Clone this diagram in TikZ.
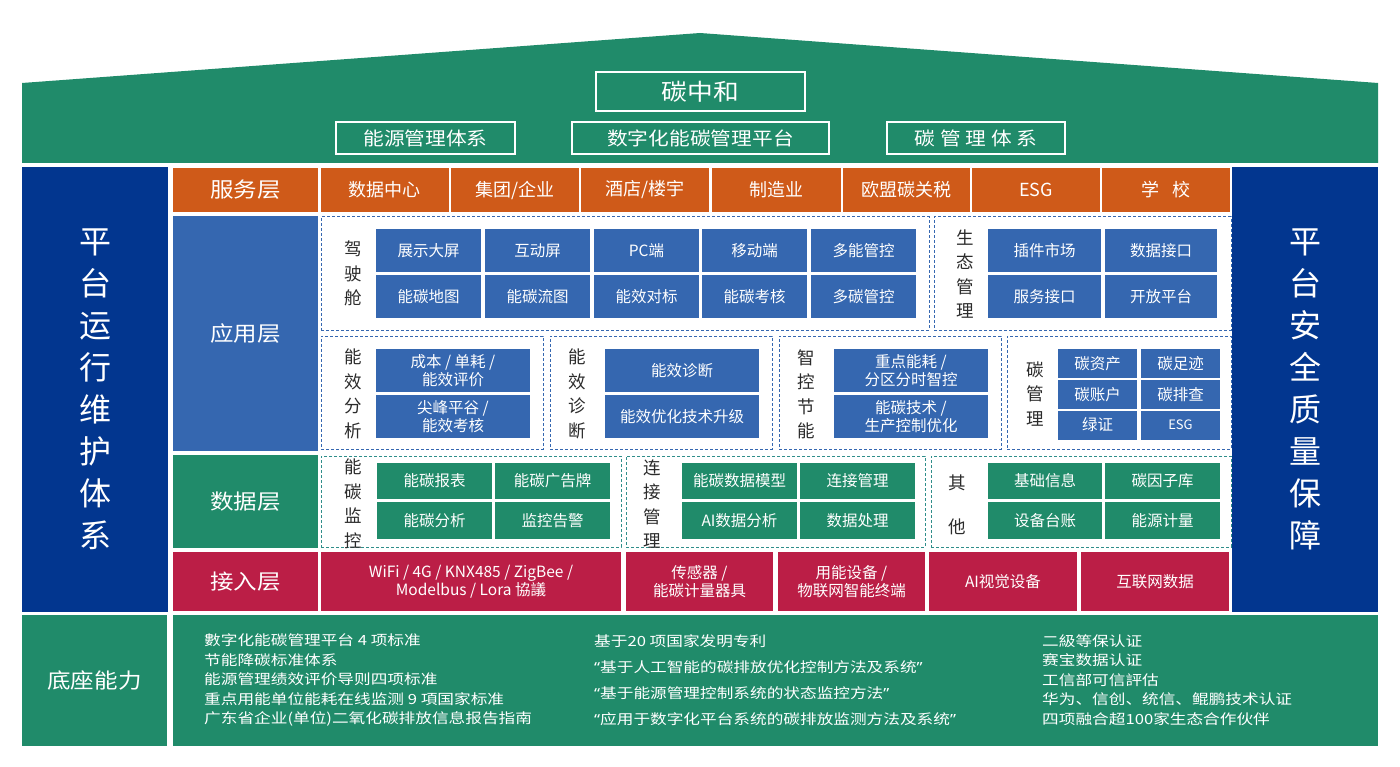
\documentclass[tikz,border=0pt]{standalone}
\usepackage{fontspec}
\setmainfont{Noto Sans CJK SC}
\newfontfamily\wideA[FakeStretch=1.12]{Noto Sans CJK SC}
\newfontfamily\wideB[FakeStretch=1.19]{Noto Sans CJK SC}
\newfontfamily\quotefont[FakeStretch=1.19]{Noto Sans}
\newcommand\oq{{\quotefont “}}
\newcommand\cq{{\quotefont ”}}
\usepackage{tikz}
\usetikzlibrary{positioning}

\definecolor{roofgreen}{HTML}{208B6A}
\definecolor{darkblue}{HTML}{02368F}
\definecolor{svcorange}{HTML}{CF5A19}
\definecolor{appblue}{HTML}{3567B0}
\definecolor{accred}{HTML}{BB1E46}
\definecolor{dashteal}{HTML}{2F8E8A}
\definecolor{labelgray}{HTML}{2B2B2B}

\tikzset{
  dims/.style 2 args={minimum width=#1pt, minimum height=#2pt},
  cell/.style={rectangle, inner sep=0pt, outer sep=0pt, text=white, align=center, font=\fontsize{15.5}{18.5}\selectfont},
  layerbox/.style={cell, font=\wideA\fontsize{21}{21}\selectfont},
}

\begin{document}
\begin{tikzpicture}[x=1pt, y=-1pt]
  \tikzset{
    roofbox/.style={cell, draw=white, line width=1.2pt, font=\wideA\fontsize{18.5}{18.5}\selectfont},
    sidebar/.style={cell, fill=darkblue, font=\fontsize{32}{42}\selectfont},
    svccell/.style={cell, fill=svcorange, font=\fontsize{18}{18}\selectfont},
    appcell/.style={cell, fill=appblue},
    datacell/.style={cell, fill=roofgreen},
    acccell/.style={cell, fill=accred},
    appgroup/.style={rectangle, draw=appblue, fill=white, line width=1pt, dash pattern=on 3pt off 2pt, inner sep=0pt},
    datagroup/.style={appgroup, draw=dashteal},
    grouplabel/.style={text=labelgray, align=center, inner sep=0pt, font=\fontsize{17.5}{24.5}\selectfont},
    basetext/.style={anchor=west, text=white, align=left, inner sep=0pt, font=\wideB\fontsize{14}{19.5}\selectfont},
  }
  \useasboundingbox (0,0) rectangle (1400,767);

  % Roof
  \fill[roofgreen] (22,83) -- (700,33) -- (1378,83) -- (1378,163) -- (22,163) -- cycle;
  \node[roofbox, dims={209}{39}, font=\wideA\fontsize{23}{23}\selectfont] (tzh) at (700.5,91.5) {碳中和};
  \node[roofbox, dims={179}{32}] (nytx) at (425.5,138) {能源管理体系};
  \node[roofbox, dims={257}{32}] (pt) at (700.5,138) {数字化能碳管理平台};
  \node[roofbox, dims={178}{32}] (ttx) at (976,138) {碳 管 理 体 系};

  % Side columns
  \node[sidebar, dims={146}{445}] (yw) at (95,389.5) {平\\台\\运\\行\\维\\护\\体\\系};
  \node[sidebar, dims={146}{445}] (aq) at (1305,389.5) {平\\台\\安\\全\\质\\量\\保\\障};

  % Service layer
  \node[svccell, layerbox, dims={145}{44}] (fwc) at (245.5,190) {服务层};
  \node[svccell, dims={128}{44}] (s1) at (384.5,190) {数据中心};
  \node[svccell, dims={128}{44}] (s2) at (515,190) {集团/企业};
  \node[svccell, dims={128}{44}] (s3) at (645,190) {酒店/楼宇};
  \node[svccell, dims={129}{44}] (s4) at (776,190) {制造业};
  \node[svccell, dims={127}{44}] (s5) at (906.5,190) {欧盟碳关税};
  \node[svccell, dims={128}{44}] (s6) at (1036,190) {ESG};
  \node[svccell, dims={128}{44}] (s7) at (1166,190) {学\hspace{0.7em}校};

  % Application layer
  \node[layerbox, fill=appblue, dims={145}{235}] (yyc) at (245.5,333.5) {应用层};
  \node[appgroup, dims={608}{113}] (jscg) at (625,273.5) {};
  \node[appgroup, dims={297}{113}] (stg) at (1082.5,273.5) {};
  \node[appgroup, dims={222}{113}] (fxg) at (432,392.5) {};
  \node[appgroup, dims={222}{113}] (zdg) at (661,392.5) {};
  \node[appgroup, dims={222}{113}] (zkg) at (890,392.5) {};
  \node[appgroup, dims={224}{113}] (tgg) at (1119,392.5) {};

  \node[grouplabel] (jscl) at (353,273.5) {驾\\驶\\舱};
  \node[appcell, dims={105}{43}] (a1) at (428.5,250.5) {展示大屏};
  \node[appcell, dims={105}{43}] (a2) at (537.5,250.5) {互动屏};
  \node[appcell, dims={105}{43}] (a3) at (646.5,250.5) {PC端};
  \node[appcell, dims={105}{43}] (a4) at (754.5,250.5) {移动端};
  \node[appcell, dims={105}{43}] (a5) at (863.5,250.5) {多能管控};
  \node[appcell, dims={105}{43}] (a6) at (428.5,296.5) {能碳地图};
  \node[appcell, dims={105}{43}] (a7) at (537.5,296.5) {能碳流图};
  \node[appcell, dims={105}{43}] (a8) at (646.5,296.5) {能效对标};
  \node[appcell, dims={105}{43}] (a9) at (754.5,296.5) {能碳考核};
  \node[appcell, dims={105}{43}] (a10) at (863.5,296.5) {多碳管控};

  \node[grouplabel] (stl) at (965,274) {生\\态\\管\\理};
  \node[appcell, dims={113}{43}] (e1) at (1044.5,250.5) {插件市场};
  \node[appcell, dims={112}{43}] (e2) at (1161,250.5) {数据接口};
  \node[appcell, dims={113}{43}] (e3) at (1044.5,296.5) {服务接口};
  \node[appcell, dims={112}{43}] (e4) at (1161,296.5) {开放平台};

  \node[grouplabel] (fxl) at (353,394) {能\\效\\分\\析};
  \node[appcell, dims={154}{43}] (f1) at (453,370.5) {成本 / 单耗 /\\能效评价};
  \node[appcell, dims={154}{43}] (f2) at (453,416.5) {尖峰平谷 /\\能效考核};

  \node[grouplabel] (zdl) at (577,394) {能\\效\\诊\\断};
  \node[appcell, dims={154}{43}] (d1) at (682,370.5) {能效诊断};
  \node[appcell, dims={154}{43}] (d2) at (682,416.5) {能效优化技术升级};

  \node[grouplabel] (zkl) at (806,394.5) {智\\控\\节\\能};
  \node[appcell, dims={154}{43}] (k1) at (911,370.5) {重点能耗 /\\分区分时智控};
  \node[appcell, dims={154}{43}] (k2) at (911,416.5) {能碳技术 /\\生产控制优化};

  \node[grouplabel] (tgl) at (1035,394) {碳\\管\\理};
  \node[appcell, dims={79}{29}] (t1) at (1097.5,363.5) {碳资产};
  \node[appcell, dims={79}{29}] (t2) at (1180.5,363.5) {碳足迹};
  \node[appcell, dims={79}{29}] (t3) at (1097.5,394.5) {碳账户};
  \node[appcell, dims={79}{29}] (t4) at (1180.5,394.5) {碳排查};
  \node[appcell, dims={79}{29}] (t5) at (1097.5,425) {绿证};
  \node[appcell, dims={79}{29}, font=\fontsize{13}{13}\selectfont] (t6) at (1180.5,425) {ESG};

  % Data layer
  \node[layerbox, fill=roofgreen, dims={145}{93}] (sjc) at (245.5,501.5) {数据层};
  \node[datagroup, dims={300}{91}] (jkg) at (471,501.5) {};
  \node[datagroup, dims={299}{91}] (ljg) at (775.5,501.5) {};
  \node[datagroup, dims={300}{91}] (qtg) at (1081,501.5) {};

  \node[grouplabel] (jkl) at (353,504) {能\\碳\\监\\控};
  \node[datacell, dims={115}{36.5}] (m1) at (434.5,481) {能碳报表};
  \node[datacell, dims={115}{36.5}] (m2) at (552.5,481) {能碳广告牌};
  \node[datacell, dims={115}{36.5}] (m3) at (434.5,520.5) {能碳分析};
  \node[datacell, dims={115}{36.5}] (m4) at (552.5,520.5) {监控告警};

  \node[grouplabel] (ljl) at (652,504) {连\\接\\管\\理};
  \node[datacell, dims={115}{36.5}] (c1) at (739.5,481) {能碳数据模型};
  \node[datacell, dims={115}{36.5}] (c2) at (857.5,481) {连接管理};
  \node[datacell, dims={115}{36.5}] (c3) at (739.5,520.5) {AI数据分析};
  \node[datacell, dims={115}{36.5}] (c4) at (857.5,520.5) {数据处理};

  \node[grouplabel] (qtl) at (957,505) {其\\[19.5pt]他};
  \node[datacell, dims={114}{36.5}] (o1) at (1045,481) {基础信息};
  \node[datacell, dims={115}{36.5}] (o2) at (1162.5,481) {碳因子库};
  \node[datacell, dims={114}{36.5}] (o3) at (1045,520.5) {设备台账};
  \node[datacell, dims={115}{36.5}] (o4) at (1162.5,520.5) {能源计量};

  % Access layer
  \node[layerbox, fill=accred, dims={145}{59}] (jrc) at (245.5,581.5) {接入层};
  \node[acccell, dims={300}{59}] (r1) at (471,581.5) {WiFi / 4G / KNX485 / ZigBee /\\Modelbus / Lora 協議};
  \node[acccell, dims={147}{59}] (r2) at (699.5,581.5) {传感器 /\\能碳计量器具};
  \node[acccell, dims={147}{59}] (r3) at (851.5,581.5) {用能设备 /\\物联网智能终端};
  \node[acccell, dims={148}{59}] (r4) at (1003,581.5) {AI视觉设备};
  \node[acccell, dims={148}{59}] (r5) at (1155,581.5) {互联网数据};

  % Base
  \node[layerbox, fill=roofgreen, dims={145}{131}] (dznl) at (94.5,680.5) {底座能力};
  \node[cell, fill=roofgreen, dims={1205}{131}] (dz) at (775.5,680.5) {};
  \node[basetext] (b1) at (204,680) {數字化能碳管理平台 4 项标准\\节能降碳标准体系\\能源管理绩效评价导则四项标准\\重点用能单位能耗在线监测 9 項国家标准\\广东省企业(单位)二氧化碳排放信息报告指南};
  \node[basetext, font=\wideB\fontsize{14}{26}\selectfont] (b2) at (594,680) {基于20 项国家发明专利\\\oq 基于人工智能的碳排放优化控制方法及系统\cq\\\oq 基于能源管理控制系统的状态监控方法\cq\\\oq 应用于数字化平台系统的碳排放监测方法及系统\cq};
  \node[basetext] (b3) at (1042,680) {二級等保认证\\赛宝数据认证\\工信部可信評估\\华为、信创、统信、鲲鹏技术认证\\四项融合超100家生态合作伙伴};

\end{tikzpicture}
\end{document}
